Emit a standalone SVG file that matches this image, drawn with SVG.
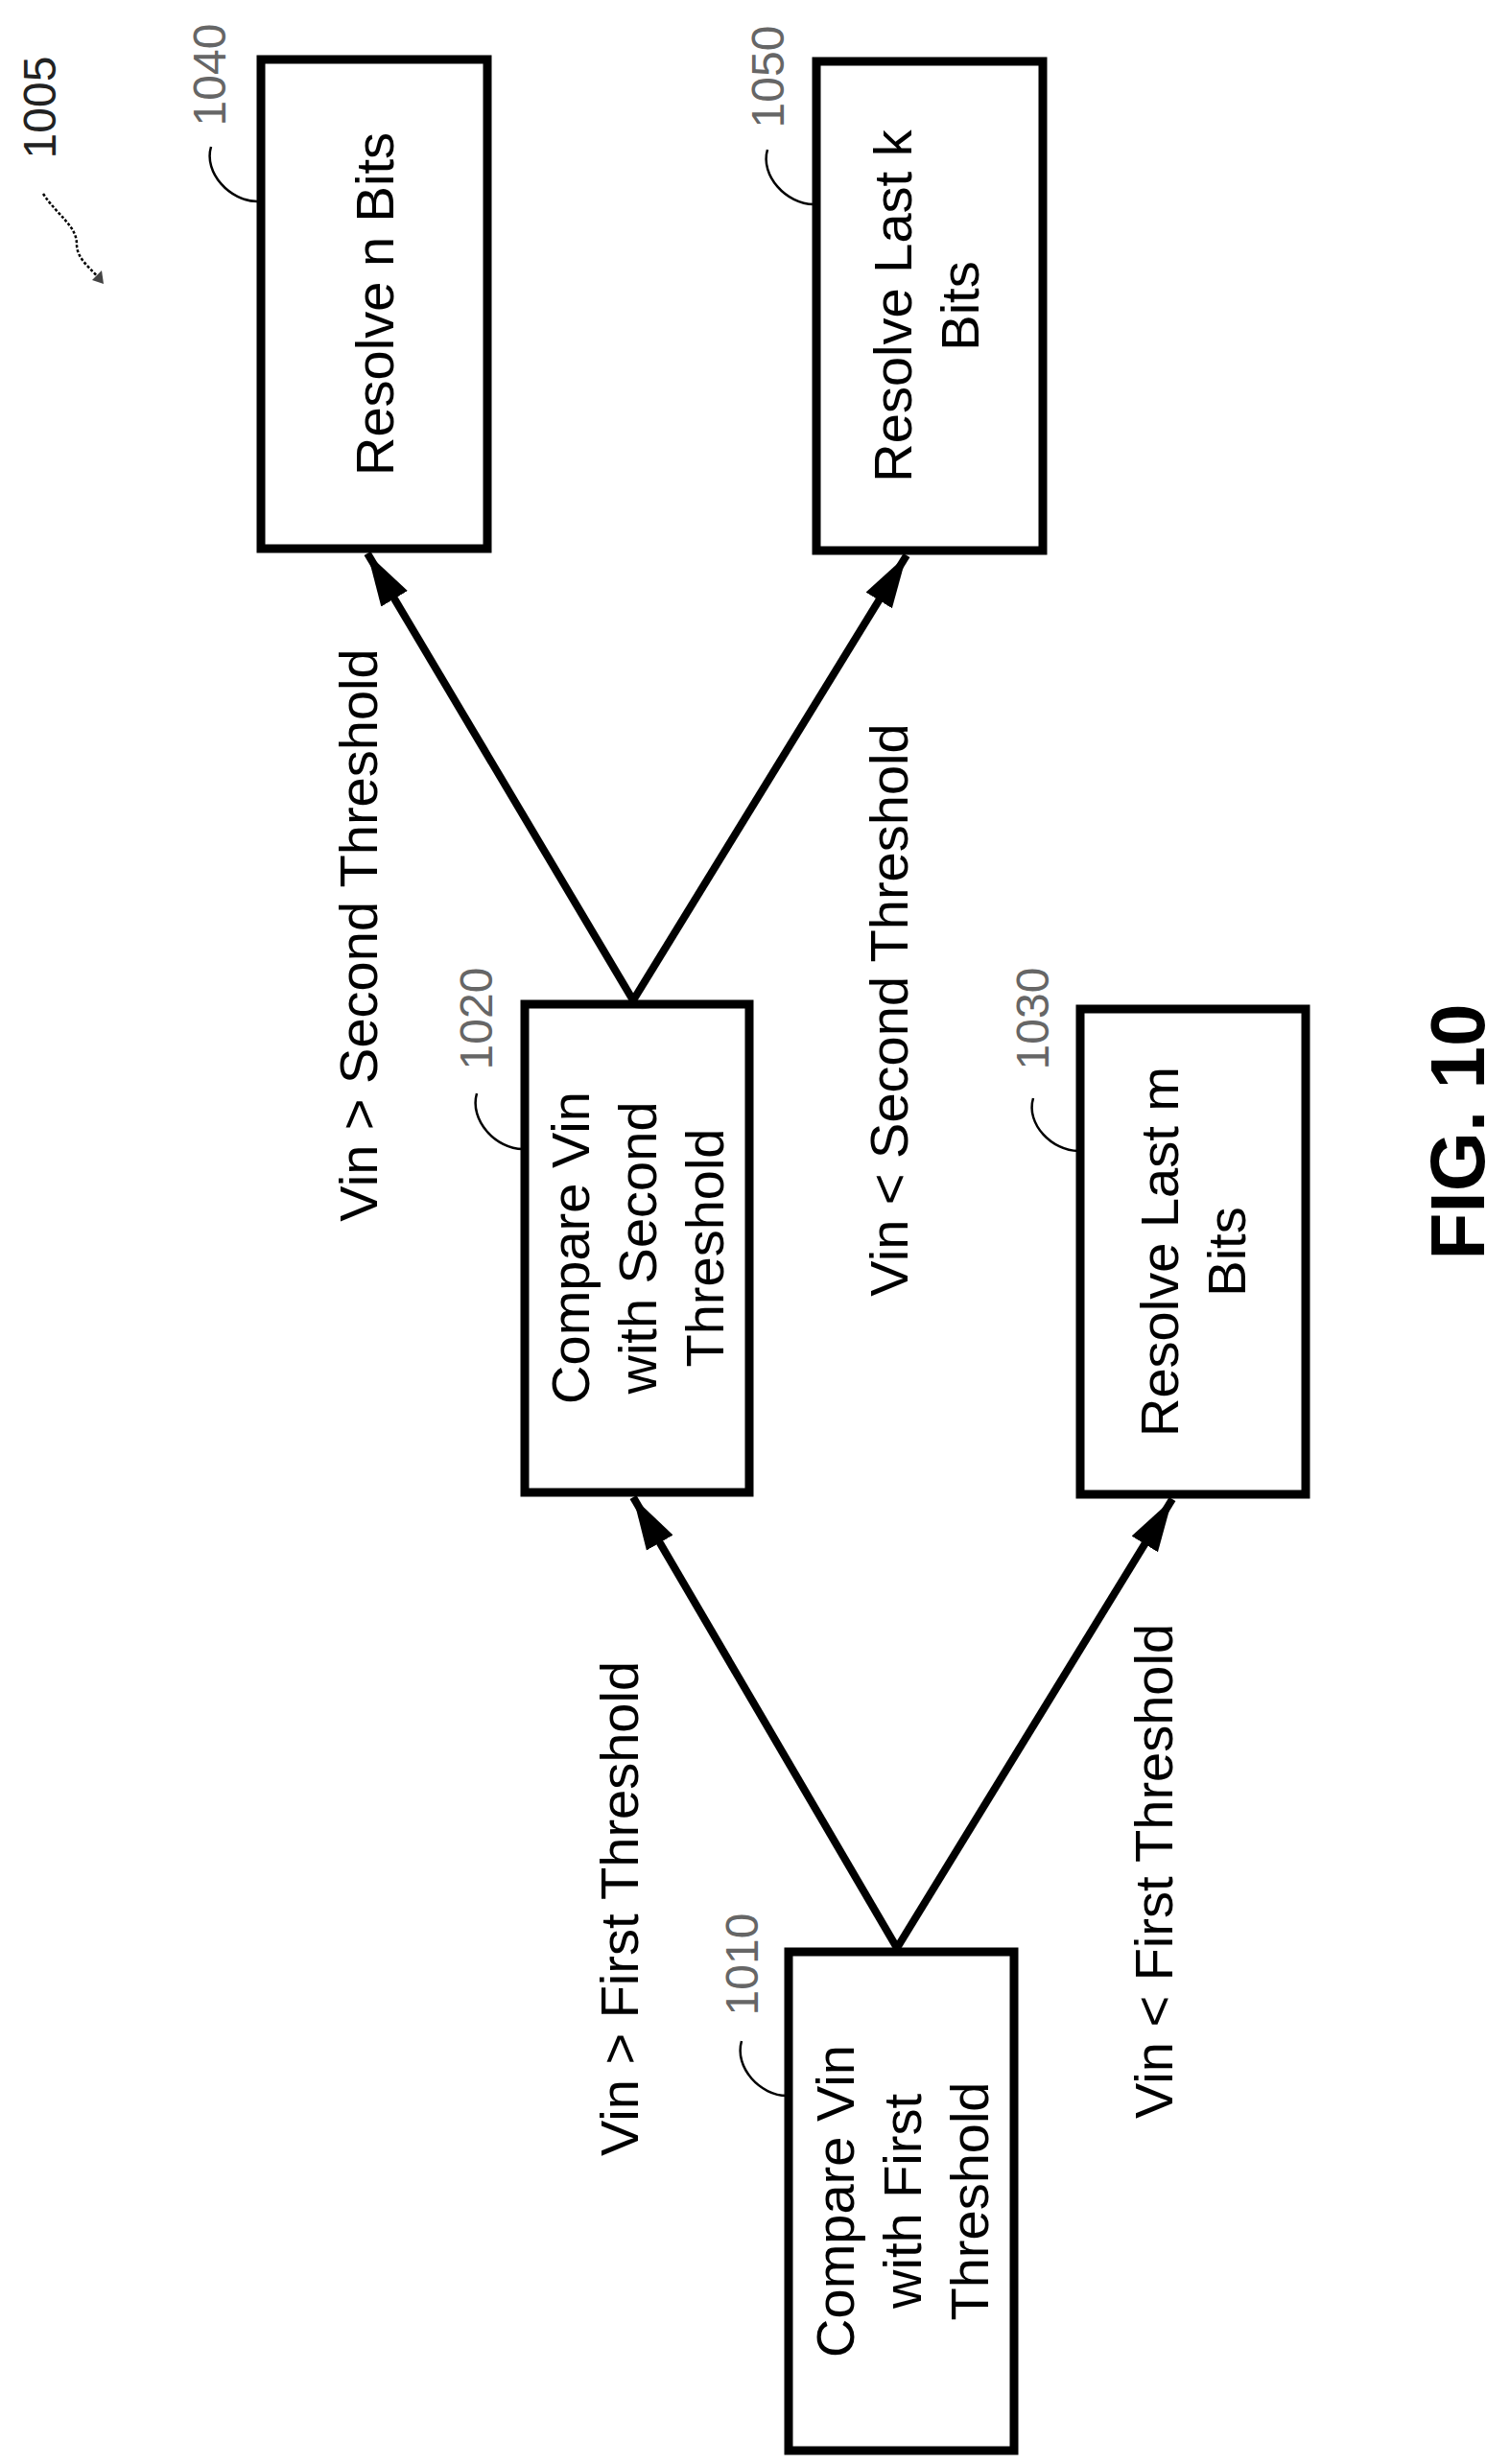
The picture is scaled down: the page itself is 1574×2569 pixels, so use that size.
<svg xmlns="http://www.w3.org/2000/svg" width="1574" height="2569" viewBox="0 0 1574 2569">
<style>
.box{fill:#fff;stroke:#000;stroke-width:9}
.t{font-family:"Liberation Sans",Arial,sans-serif;font-size:56px;text-anchor:middle;fill:#000}
.ref{font-family:"Liberation Sans",Arial,sans-serif;font-size:48px;text-anchor:middle;fill:#666}
.lead{fill:none;stroke:#000;stroke-width:2.5}
.con{stroke:#000;stroke-width:8;fill:none;marker-end:url(#ah)}
</style>
<defs>
<marker id="ah" markerUnits="userSpaceOnUse" markerWidth="60" markerHeight="40" viewBox="0 0 60 40" refX="55" refY="20" orient="auto">
<path d="M0,4 L55,20 L0,36 Z" fill="#000"/>
</marker>
</defs>
<rect width="1574" height="2569" fill="#fff"/>
<g id="n1005">
<text class="ref" transform="translate(58,112) rotate(-90)" fill="#222" style="fill:#222">1005</text>
<path class="lead" d="M45,202 C60,225 80,235 80,255 C80,270 95,280 103,290" stroke-dasharray="3 2"/>
<path d="M96,292 L108,296 L106,282 Z" fill="#444"/>
</g>
<g id="n1040">
<rect class="box" x="272" y="62" width="236" height="510"/>
<text class="t" transform="translate(390,317) rotate(-90)"><tspan x="0" y="20">Resolve n Bits</tspan></text>
<text class="ref" transform="translate(235,78) rotate(-90)">1040</text>
<path class="lead" d="M220,153 C212,180 240,210 268,210"/>
</g>
<g id="n1050">
<rect class="box" x="851" y="64" width="236" height="510"/>
<text class="t" transform="translate(965,319) rotate(-90)"><tspan x="0" y="-15">Resolve Last k</tspan><tspan x="0" dy="70">Bits</tspan></text>
<text class="ref" transform="translate(817,80) rotate(-90)">1050</text>
<path class="lead" d="M800,156 C792,183 820,213 848,213"/>
</g>
<g id="n1020">
<rect class="box" x="547" y="1047" width="234" height="509"/>
<text class="t" transform="translate(664,1301) rotate(-90)"><tspan x="0" y="-50">Compare Vin</tspan><tspan x="0" dy="70">with Second</tspan><tspan x="0" dy="70">Threshold</tspan></text>
<text class="ref" transform="translate(513,1062) rotate(-90)">1020</text>
<path class="lead" d="M497,1140 C489,1168 517,1198 545,1198"/>
</g>
<g id="n1030">
<rect class="box" x="1126" y="1052" width="235" height="506"/>
<text class="t" transform="translate(1243,1305) rotate(-90)"><tspan x="0" y="-15">Resolve Last m</tspan><tspan x="0" dy="70">Bits</tspan></text>
<text class="ref" transform="translate(1093,1062) rotate(-90)">1030</text>
<path class="lead" d="M1077,1145 C1069,1172 1097,1200 1124,1200"/>
</g>
<g id="n1010">
<rect class="box" x="822" y="2035" width="235" height="520"/>
<text class="t" transform="translate(940,2295) rotate(-90)"><tspan x="0" y="-50">Compare Vin</tspan><tspan x="0" dy="70">with First</tspan><tspan x="0" dy="70">Threshold</tspan></text>
<text class="ref" transform="translate(790,2048) rotate(-90)">1010</text>
<path class="lead" d="M773,2128 C765,2156 793,2185 820,2185"/>
</g>
<g id="connectors">
<line class="con" x1="935" y1="2031" x2="660" y2="1561"/>
<line class="con" x1="935" y1="2031" x2="1222" y2="1563"/>
<line class="con" x1="660" y1="1043" x2="383" y2="577"/>
<line class="con" x1="660" y1="1043" x2="945" y2="579"/>
</g>
<g id="labels">
<text class="t" transform="translate(393,975) rotate(-90)">Vin &gt; Second Threshold</text>
<text class="t" transform="translate(946,1053) rotate(-90)">Vin &lt; Second Threshold</text>
<text class="t" transform="translate(665,1990) rotate(-90)">Vin &gt; First Threshold</text>
<text class="t" transform="translate(1222,1951) rotate(-90)">Vin &lt; First Threshold</text>
<text transform="translate(1547,1180) rotate(-90)" style="font-family:'Liberation Sans',Arial,sans-serif;font-size:80px;font-weight:bold;text-anchor:middle">FIG. 10</text>
</g>
</svg>
